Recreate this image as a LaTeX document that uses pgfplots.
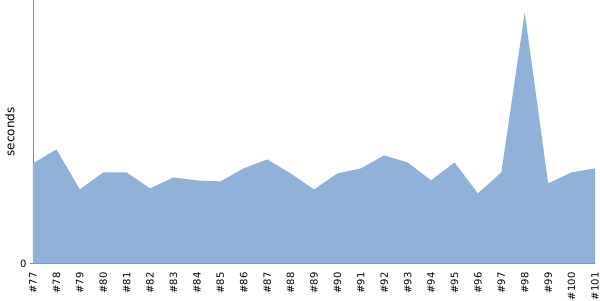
\documentclass[border=0pt]{standalone}
\usepackage{pgfplots}
\pgfplotsset{compat=1.18}
\usepackage{fontspec}
\setmainfont{DejaVu Sans}
\definecolor{areafill}{RGB}{143,177,218}
\definecolor{axisgrey}{RGB}{136,136,136}
\begin{document}
\begin{tikzpicture}
\begin{axis}[
  scale only axis,
  width=562pt, height=263pt,
  xmin=0, xmax=24, ymin=0, ymax=263,
  axis x line*=bottom, axis y line*=left,
  axis line style={axisgrey, line width=0.8pt},
  xtick={0,...,24},
  xticklabels={\#77,\#78,\#79,\#80,\#81,\#82,\#83,\#84,\#85,\#86,\#87,\#88,\#89,\#90,\#91,\#92,\#93,\#94,\#95,\#96,\#97,\#98,\#99,\#100,\#101},
  x tick label style={rotate=90, anchor=east, font=\fontsize{10}{11}\selectfont, inner sep=0pt, xshift=-6pt},
  xtick style={draw=none},
  ytick={0},
  y tick label style={font=\fontsize{10}{11}\selectfont},
  ytick style={axisgrey, line width=0.8pt},
  tick align=outside,
  major tick length=3pt,
  /pgf/number format/assume math mode=true,
  ylabel={seconds},
  ylabel style={at={(axis description cs:0,0.5)}, anchor=center, yshift=23pt, font=\fontsize{12}{13}\selectfont},
  clip=false,
]
\addplot[fill=areafill, draw=none] coordinates {
(0,100) (1,114) (2,74) (3,91) (4,91) (5,75) (6,86) (7,83) (8,82) (9,95)
(10,104) (11,90) (12,74) (13,90) (14,95) (15,108) (16,101) (17,83) (18,101) (19,70)
(20,91) (21,251) (22,80) (23,91) (24,95)
} \closedcycle;
\end{axis}
\path ([shift={(-33pt,-37pt)}]current axis.south west) rectangle ([shift={(5pt,0pt)}]current axis.north east);
\end{tikzpicture}
\end{document}
